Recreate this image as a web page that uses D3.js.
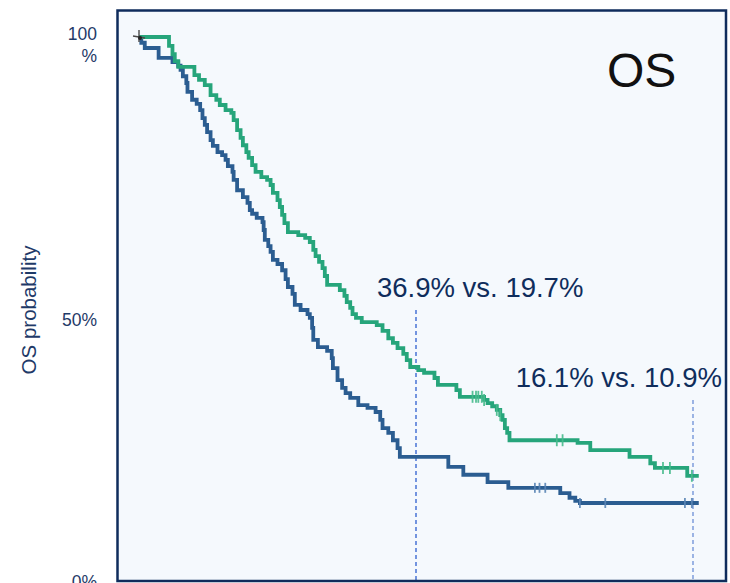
<!DOCTYPE html>
<html>
<head>
<meta charset="utf-8">
<script src="https://cdn.jsdelivr.net/npm/d3@7"></script>
<style>
  html, body { margin: 0; padding: 0; background: #ffffff; }
  svg { display: block; font-family: "Liberation Sans", Arial, sans-serif; }
</style>
</head>
<body>
<svg id="chart" width="730" height="583"></svg>
<script>
// Kaplan–Meier overall survival, two arms: [month of event, survival % after event]
const armGreen = [
  [2.6,98.3],[2.9,96.7],[3.1,95.4],[3.4,94.3],[4.8,92.7],[5.2,91.8],[5.7,90.8],[6.2,88.9],
  [6.7,88.0],[7.0,87.0],[7.5,86.0],[8.0,85.5],[8.2,84.1],[8.5,82.2],[8.8,80.7],[9.0,79.3],
  [9.3,78.0],[9.5,76.9],[9.8,75.5],[10.1,74.2],[10.6,73.2],[11.1,72.7],[11.4,71.7],[11.6,70.2],
  [12.0,68.8],[12.2,67.5],[12.4,66.0],[12.6,64.4],[12.9,62.7],[13.8,62.1],[14.4,61.6],[14.8,60.8],
  [15.1,59.3],[15.3,58.1],[15.6,57.0],[15.9,55.8],[16.1,54.3],[16.3,52.6],[17.4,51.6],[17.8,50.5],
  [18.0,49.3],[18.3,48.2],[18.5,47.0],[18.8,46.3],[19.3,45.5],[20.6,44.9],[21.1,43.8],[21.6,42.4],
  [22.0,41.5],[22.4,40.5],[22.9,39.4],[23.2,38.2],[23.5,36.9],[24.2,36.3],[24.7,35.8],[25.6,34.8],
  [25.9,33.5],[27.5,32.5],[27.8,31.2],[29.9,30.6],[30.2,30.0],[30.6,29.4],[31.0,28.7],[31.3,27.7],
  [31.5,26.8],[31.7,25.2],[31.9,24.3],[32.1,22.9],[38.0,22.4],[39.1,21.0],[42.5,19.7],[44.3,18.5],
  [44.7,17.6],[47.5,16.1]
];
const armBlue = [
  [0.2,98.9],[0.5,97.9],[1.7,96.0],[2.9,95.2],[3.4,94.5],[3.6,93.7],[3.8,92.5],[4.1,91.2],
  [4.2,89.5],[4.6,88.0],[5.0,87.2],[5.3,86.0],[5.5,84.5],[5.7,83.2],[5.9,81.8],[6.2,80.3],
  [6.4,79.2],[6.8,78.0],[7.2,77.4],[7.5,76.5],[7.7,75.3],[8.1,74.2],[8.2,72.7],[8.5,70.7],
  [9.0,69.4],[9.4,68.3],[9.6,66.9],[9.8,66.2],[10.2,65.4],[10.7,64.6],[10.8,63.1],[10.9,61.2],
  [11.2,60.0],[11.4,58.9],[11.6,57.4],[12.0,56.6],[12.4,55.4],[12.7,53.7],[12.9,52.2],[13.3,50.9],
  [13.5,48.8],[14.0,47.8],[14.6,47.0],[14.8,46.3],[15.0,44.4],[15.1,42.1],[15.5,40.7],[16.3,40.0],
  [16.7,38.6],[16.8,36.7],[17.2,34.4],[17.6,32.9],[17.9,31.9],[18.3,31.0],[19.0,29.6],[19.8,29.1],
  [20.5,28.3],[20.9,26.8],[21.1,25.2],[21.6,24.3],[22.0,22.9],[22.4,21.4],[22.6,19.7],[26.8,17.8],
  [28.1,16.3],[30.2,14.9],[32.0,13.8],[36.5,12.8],[37.3,11.9],[37.8,11.3],[38.2,10.9]
];
// censored observations (months)
const censorGreen = [28.9, 29.2, 29.4, 29.7, 29.9, 31.0, 31.3, 36.2, 36.7, 45.4, 46.0, 47.9];
const censorBlue = [34.3, 34.7, 35.2, 38.2, 40.4, 47.3, 47.9];
const lastFollowUp = 48.5;

// landmark survival rates
const landmarkMonths = [24, 48];
const landmarkLabels = ["36.9% vs. 19.7%", "16.1% vs. 10.9%"];

// y-axis
const yTickValues = [0, 50, 100];
const yTickLabels = ["0%", "50%", "100\n%"];
const yTitle = "OS probability";
const panelTitle = "OS";

const svg = d3.select("#chart");

const frame = { x0: 117.5, y0: 10.5, x1: 726, y1: 581 };
const x = d3.scaleLinear().domain([0, 48]).range([139, 693]);
const y = d3.scaleLinear().domain([0, 100]).range([560, 37]);
// label positions along the axis
const yLabel = d3.scaleLinear().domain([0, 50, 100]).range([588, 326, 40]);

// plot panel
svg.append("rect")
  .attr("x", frame.x0).attr("y", frame.y0)
  .attr("width", frame.x1 - frame.x0).attr("height", frame.y1 - frame.y0)
  .attr("fill", "#f5f9fd");

// step function helpers
function survivalAt(steps, t) {
  let s = 100;
  for (const [ti, si] of steps) { if (ti <= t) s = si; else break; }
  return s;
}
function stepPoints(steps) {
  const pts = [[0, 100], ...steps];
  pts.push([lastFollowUp, steps[steps.length - 1][1]]);
  return pts;
}

const line = d3.line()
  .x(d => x(d[0]))
  .y(d => y(d[1]))
  .curve(d3.curveStepAfter);

// landmark dashed lines
const color = { green: "#26a57b", blue: "#2b5d91", text: "#0f2d5c" };
const dashColors = ["#2d5fd0", "#6b8fd8"];
const labelBaselines = [297, 387];

svg.selectAll(".landmark")
  .data(landmarkMonths)
  .join("line")
  .attr("class", "landmark")
  .attr("x1", d => x(d)).attr("x2", d => x(d))
  .attr("y1", (d, i) => labelBaselines[i] + 13)
  .attr("y2", frame.y1)
  .attr("stroke", (d, i) => dashColors[i])
  .attr("stroke-width", 1.3)
  .attr("stroke-dasharray", "4,3");

// survival curves
const arms = [
  { steps: armBlue, color: color.blue, censor: censorBlue, tick: "#5b86b6", tickH: 10 },
  { steps: armGreen, color: color.green, censor: censorGreen, tick: "#47bb8c", tickH: 12 }
];

arms.forEach(a => {
  svg.append("path")
    .datum(stepPoints(a.steps))
    .attr("d", line)
    .attr("fill", "none")
    .attr("stroke", a.color)
    .attr("stroke-width", 3.8)
    .attr("stroke-linejoin", "miter");
});

arms.forEach(a => {
  svg.selectAll(null)
    .data(a.censor)
    .join("line")
    .attr("x1", d => x(d)).attr("x2", d => x(d))
    .attr("y1", d => y(survivalAt(a.steps, d)) - a.tickH / 2)
    .attr("y2", d => y(survivalAt(a.steps, d)) + a.tickH / 2)
    .attr("stroke", a.tick)
    .attr("stroke-width", 1.8)
    .attr("opacity", 0.9);
});

// origin marker
const ox = x(0), oy = y(100);
svg.append("path")
  .attr("d", `M${ox - 6},${oy - 1}L${ox + 6},${oy + 1}M${ox},${oy - 7}L${ox},${oy + 5}`)
  .attr("stroke", "#4a4a4a").attr("stroke-width", 1.4).attr("fill", "none");
svg.append("circle").attr("cx", ox + 1).attr("cy", oy + 1).attr("r", 2).attr("fill", "#222");

// frame
svg.append("rect")
  .attr("x", frame.x0).attr("y", frame.y0)
  .attr("width", frame.x1 - frame.x0).attr("height", frame.y1 - frame.y0)
  .attr("fill", "none")
  .attr("stroke", "#0f2c5c")
  .attr("stroke-width", 2.5);

// landmark labels
svg.selectAll(".lm-label")
  .data(landmarkLabels)
  .join("text")
  .attr("class", "lm-label")
  .attr("x", (d, i) => i === 0 ? x(landmarkMonths[i]) - 39 : x(landmarkMonths[i]) + 29)
  .attr("y", (d, i) => labelBaselines[i])
  .attr("text-anchor", (d, i) => i === 0 ? "start" : "end")
  .attr("font-size", 27.5)
  .attr("fill", color.text)
  .text(d => d);

// panel title
svg.append("text")
  .attr("x", 607).attr("y", 87)
  .attr("font-size", 48)
  .attr("fill", "#111")
  .text(panelTitle);

// y tick labels
const tickText = svg.selectAll(".ytick")
  .data(yTickValues)
  .join("text")
  .attr("class", "ytick")
  .attr("text-anchor", "end")
  .attr("font-size", 17.5)
  .attr("fill", "#1f3a68");
tickText.each(function (d, i) {
  const lines = yTickLabels[i].split("\n");
  d3.select(this).selectAll("tspan")
    .data(lines)
    .join("tspan")
    .attr("x", 97)
    .attr("y", (l, j) => yLabel(d) + j * 22)
    .text(l => l);
});

// y title
svg.append("text")
  .attr("transform", "translate(36,310) rotate(-90)")
  .attr("text-anchor", "middle")
  .attr("font-size", 20.5)
  .attr("fill", "#1f3a68")
  .text(yTitle);
</script>
</body>
</html>
